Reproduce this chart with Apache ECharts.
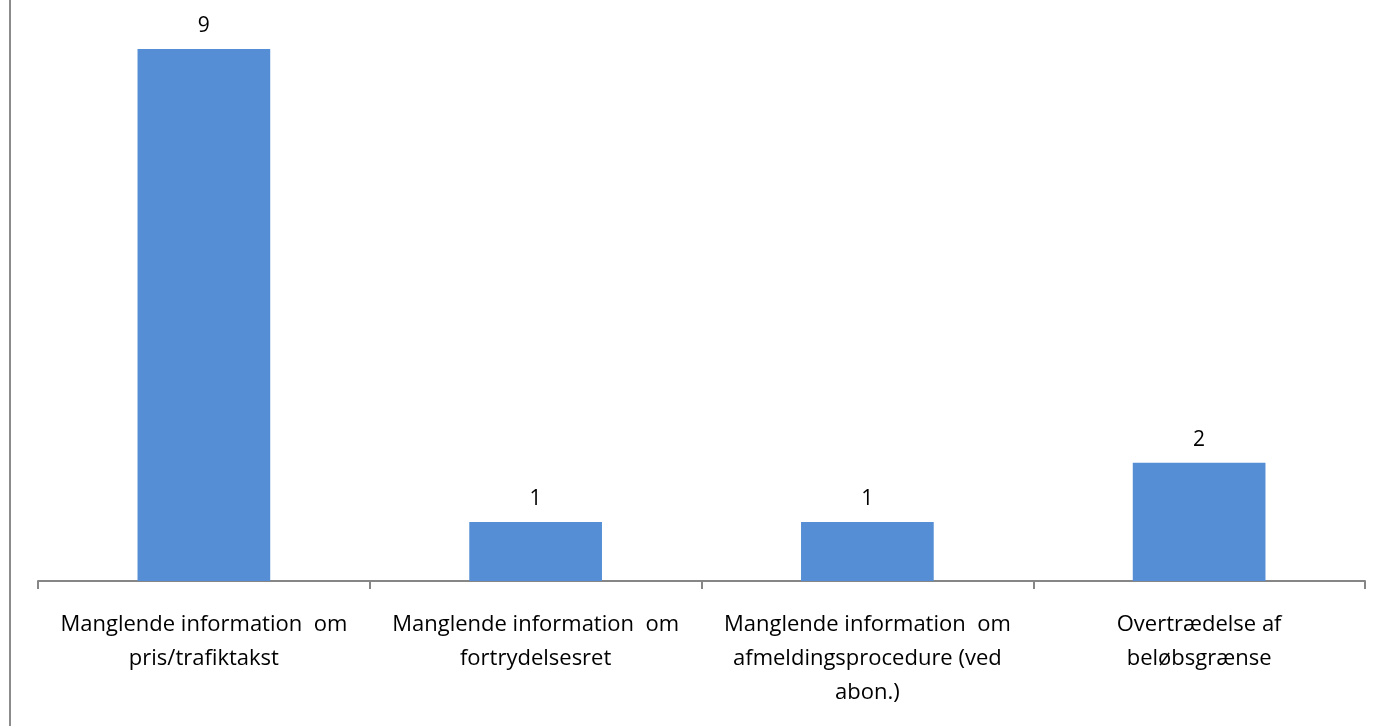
<!DOCTYPE html>
<html>
<head>
<meta charset="utf-8">
<script src="https://cdn.jsdelivr.net/npm/echarts@6/dist/echarts.min.js"></script>
<style>
  html, body { margin: 0; padding: 0; background: #fff; }
  #chart { width: 1374px; height: 726px; }
</style>
</head>
<body>
<div id="chart"></div>
<script>
// categories as printed under the axis (line breaks as in the picture)
var categories = [
  'Manglende information  om\npris/trafiktakst',
  'Manglende information  om\nfortrydelsesret',
  'Manglende information  om\nafmeldingsprocedure (ved\nabon.)',
  'Overtrædelse af\nbeløbsgrænse'
];
var counts = [9, 1, 1, 2];

var myChart = echarts.init(document.getElementById('chart'));
var option = {
  animation: false,
  textStyle: { fontFamily: '"Open Sans", "Liberation Sans", sans-serif' },
  grid: { left: 38, right: 9, top: 49, bottom: 145 },
  graphic: [{
    type: 'line',
    shape: { x1: 10, y1: 0, x2: 10, y2: 726 },
    style: { stroke: '#8c8c8c', lineWidth: 2 }
  }],
  xAxis: {
    type: 'category',
    data: categories,
    axisLine: { lineStyle: { color: '#868686', width: 2 } },
    axisTick: { show: true, length: 8, lineStyle: { color: '#868686', width: 2 } },
    axisLabel: {
      interval: 0,
      color: '#000',
      fontSize: 22,
      lineHeight: 34,
      margin: 27
    }
  },
  yAxis: {
    type: 'value',
    min: 0,
    max: 9,
    show: false
  },
  series: [{
    name: 'Antal',
    type: 'bar',
    data: counts,
    barWidth: '40%',
    itemStyle: { color: '#558ed5' },
    label: {
      show: true,
      position: 'top',
      distance: 12,
      color: '#000',
      fontSize: 21
    }
  }]
};
myChart.setOption(option);
</script>
</body>
</html>
